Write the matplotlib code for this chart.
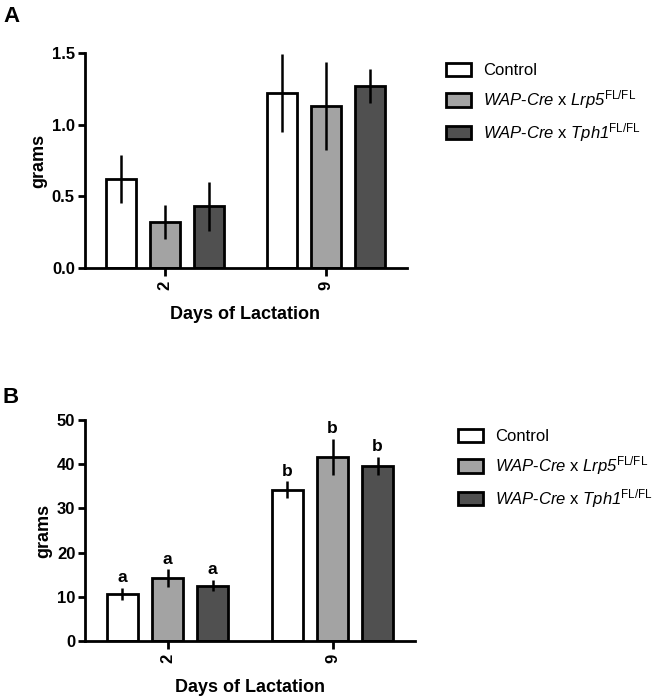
import matplotlib
matplotlib.use("Agg")
import matplotlib.pyplot as plt
from matplotlib.patches import Patch
import numpy as np

plt.rcParams['font.family'] = ['Liberation Sans', 'DejaVu Sans']
plt.rcParams['mathtext.fontset'] = 'custom'
plt.rcParams['mathtext.rm'] = 'Liberation Sans:italic'
plt.rcParams['mathtext.it'] = 'Liberation Sans:italic'
plt.rcParams['mathtext.sf'] = 'Liberation Sans'
plt.rcParams['mathtext.bf'] = 'Liberation Sans:bold'

days = ["2", "9"]
groups = ["Control",
          r"$\mathrm{WAP}$-$\mathrm{Cre}$ x $\mathrm{Lrp5}^{\mathsf{FL/FL}}$",
          r"$\mathrm{WAP}$-$\mathrm{Cre}$ x $\mathrm{Tph1}^{\mathsf{FL/FL}}$"]
colors = ["#ffffff", "#a3a3a3", "#505050"]

# Panel A (grams)
a_means = [[0.62, 1.22], [0.32, 1.13], [0.43, 1.27]]
a_err = [[0.165, 0.27], [0.12, 0.31], [0.17, 0.12]]
# Panel B (grams)
b_means = [[10.7, 34.2], [14.2, 41.6], [12.5, 39.6]]
b_err = [[1.4, 1.9], [2.0, 4.1], [1.3, 2.1]]
b_letters = [["a", "b"], ["a", "b"], ["a", "b"]]

fig = plt.figure(figsize=(6.66, 6.98), dpi=100)

def draw(ax, means, errs, yticks, yticklabels, letters=None):
    x = np.arange(len(days))
    offs = [-0.273, 0.0, 0.273]
    w = 0.187
    for i in range(3):
        xi = x + offs[i]
        ax.bar(xi, means[i], width=w, color=colors[i], edgecolor='black',
               linewidth=2.0, zorder=2)
        ax.errorbar(xi, means[i], yerr=errs[i], fmt='none', ecolor='black',
                    elinewidth=1.8, capsize=0, zorder=3)
        if letters is not None:
            for j in range(len(days)):
                ax.annotate(letters[i][j], (xi[j], means[i][j] + errs[i][j]),
                            xytext=(0, 2), textcoords='offset points',
                            ha='center', va='bottom', fontsize=12.5,
                            fontweight='bold')
    ax.set_xlim(-0.5, 1.5)
    ax.set_ylim(yticks[0], yticks[-1])
    ax.set_xticks(x)
    ax.set_xticklabels(days, rotation=90, fontsize=12, fontweight='bold')
    ax.set_yticks(yticks)
    ax.set_yticklabels(yticklabels, fontsize=12, fontweight='bold')
    for s in ['top', 'right']:
        ax.spines[s].set_visible(False)
    for s in ['left', 'bottom']:
        ax.spines[s].set_linewidth(2.0)
    ax.spines['left'].set_bounds(yticks[0], yticks[-1])
    ax.tick_params(axis='x', length=6, width=2.0, pad=3)
    ax.tick_params(axis='y', length=5, width=2.0, pad=2)
    ax.set_xlabel("Days of Lactation", fontsize=13, fontweight='bold', labelpad=12)
    ax.set_ylabel("grams", fontsize=13, fontweight='bold', labelpad=3)

axA = fig.add_axes([84.5/666, 1 - 268/698, 322/666, 215/698])
draw(axA, a_means, a_err, [0, 0.5, 1.0, 1.5], ["0.0", "0.5", "1.0", "1.5"])

axB = fig.add_axes([85/666, 1 - 641/698, 330/666, 221/698])
draw(axB, b_means, b_err, [0, 10, 20, 30, 40, 50],
     ["0", "10", "20", "30", "40", "50"], letters=b_letters)

handles = [Patch(facecolor=c, edgecolor='black', linewidth=2.0) for c in colors]
for (lx, ly) in [(446, 63), (458, 429)]:
    fig.legend(handles, groups, loc='upper left',
               bbox_to_anchor=(lx/666, 1 - ly/698), frameon=False,
               fontsize=12, handlelength=1.5, handleheight=0.85,
               labelspacing=0.6, handletextpad=0.7, borderaxespad=0,
               borderpad=0)

fig.text(3/666, 1 - 6/698, "A", fontsize=16, fontweight='bold', va='top', ha='left')
fig.text(3/666, 1 - 387/698, "B", fontsize=16, fontweight='bold', va='top', ha='left')

fig.savefig("out.png", dpi=100)
